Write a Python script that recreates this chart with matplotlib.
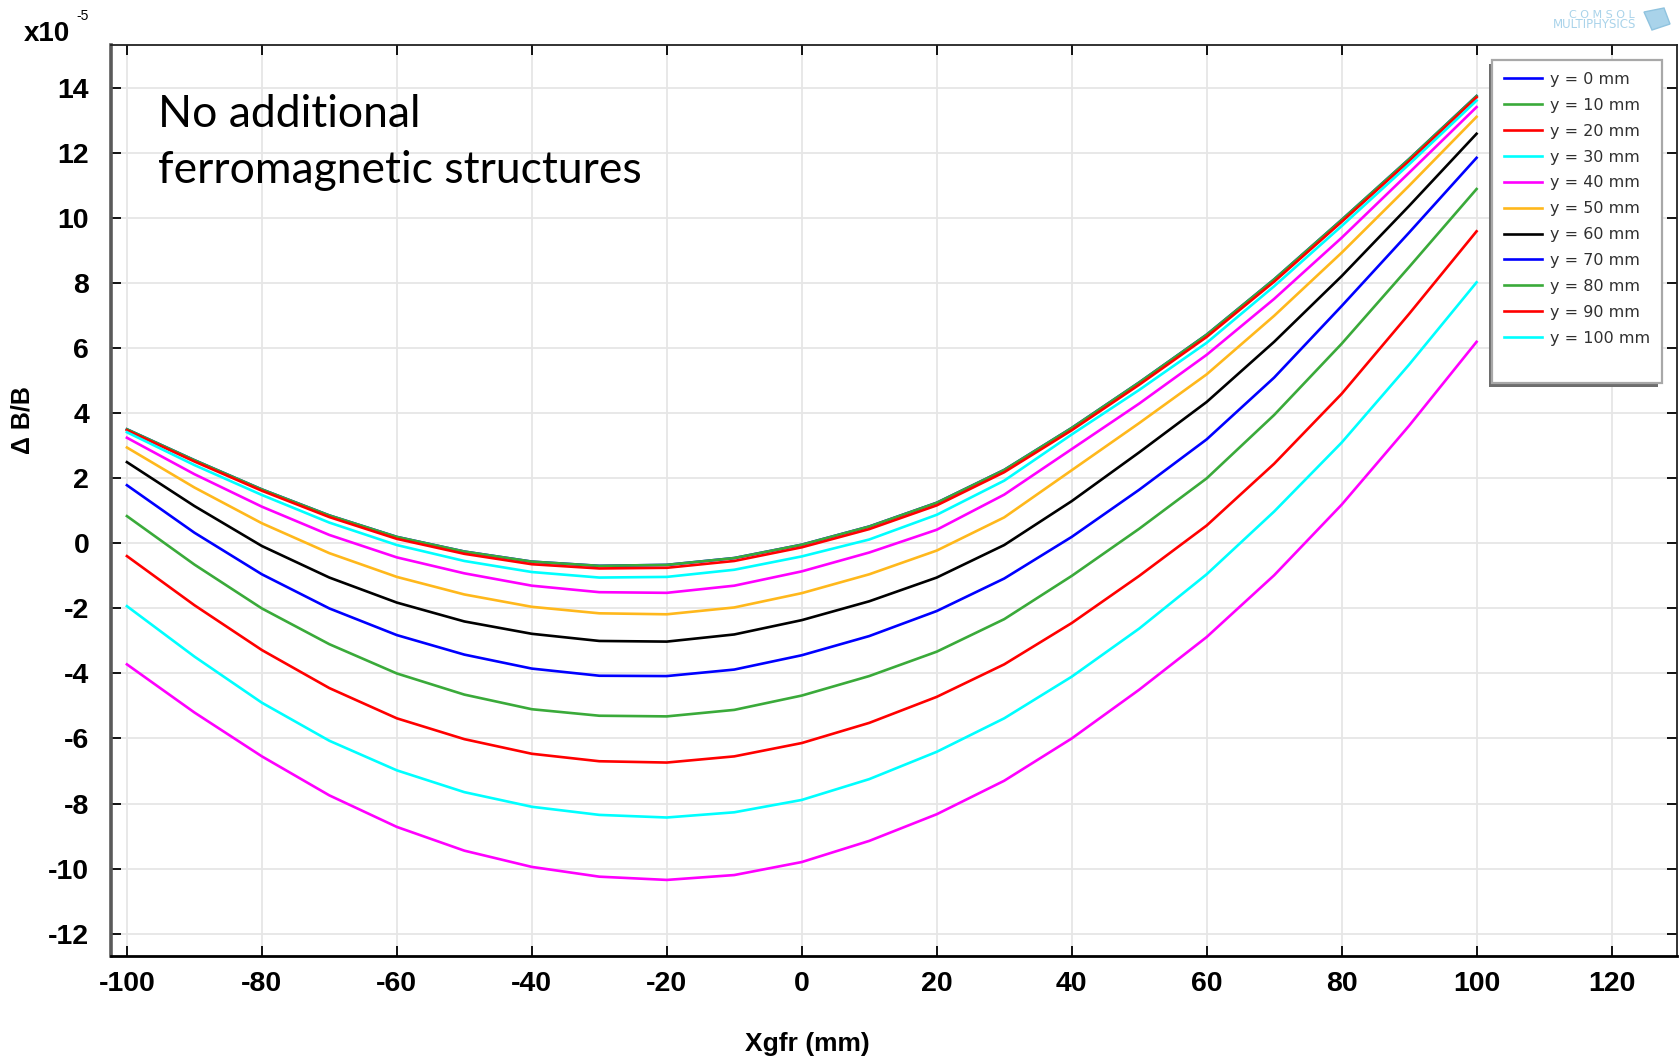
import matplotlib
matplotlib.use('Agg')
import matplotlib.pyplot as plt
from matplotlib.lines import Line2D
from matplotlib.patches import Rectangle, Polygon

plt.rcParams['axes.unicode_minus'] = False

# ---------------- data (units of 1e-5) ----------------
x_mm = [-100, -90, -80, -70, -60, -50, -40, -30, -20, -10, 0,
        10, 20, 30, 40, 50, 60, 70, 80, 90, 100]

dbb_y0 = [3.51, 2.56, 1.66, 0.86, 0.20, -0.25, -0.56, -0.69, -0.66, -0.45, -0.04,
          0.52, 1.25, 2.26, 3.55, 4.95, 6.42, 8.12, 9.95, 11.82, 13.76]
dbb_y10 = [3.51, 2.56, 1.66, 0.86, 0.20, -0.25, -0.56, -0.69, -0.66, -0.45, -0.04,
           0.52, 1.25, 2.26, 3.55, 4.95, 6.42, 8.12, 9.95, 11.82, 13.76]
dbb_y20 = [3.48, 2.52, 1.62, 0.81, 0.14, -0.32, -0.64, -0.77, -0.75, -0.54, -0.12,
           0.44, 1.17, 2.19, 3.48, 4.88, 6.35, 8.05, 9.89, 11.76, 13.72]
dbb_y30 = [3.42, 2.41, 1.49, 0.64, -0.05, -0.54, -0.88, -1.05, -1.03, -0.81, -0.40,
           0.12, 0.88, 1.93, 3.35, 4.72, 6.17, 7.91, 9.76, 11.66, 13.62]
dbb_y40 = [3.25, 2.13, 1.13, 0.26, -0.43, -0.92, -1.30, -1.50, -1.52, -1.30, -0.86,
           -0.28, 0.42, 1.50, 2.90, 4.30, 5.80, 7.52, 9.40, 11.40, 13.42]
dbb_y50 = [2.95, 1.72, 0.62, -0.30, -1.03, -1.57, -1.95, -2.15, -2.18, -1.97, -1.53,
           -0.95, -0.22, 0.80, 2.25, 3.70, 5.20, 7.00, 8.94, 11.00, 13.12]
dbb_y60 = [2.50, 1.15, -0.08, -1.05, -1.82, -2.40, -2.78, -3.00, -3.02, -2.80, -2.36,
           -1.78, -1.05, -0.05, 1.30, 2.80, 4.35, 6.20, 8.22, 10.38, 12.60]
dbb_y70 = [1.79, 0.33, -0.95, -2.00, -2.82, -3.42, -3.85, -4.07, -4.08, -3.88, -3.44,
           -2.85, -2.08, -1.08, 0.20, 1.65, 3.20, 5.10, 7.30, 9.56, 11.86]
dbb_y80 = [0.84, -0.65, -2.00, -3.10, -4.00, -4.65, -5.10, -5.30, -5.32, -5.12, -4.68,
           -4.08, -3.33, -2.33, -1.00, 0.45, 2.00, 3.95, 6.14, 8.50, 10.90]
dbb_y90 = [-0.39, -1.90, -3.28, -4.45, -5.38, -6.02, -6.47, -6.70, -6.74, -6.55, -6.14,
           -5.52, -4.72, -3.72, -2.45, -1.00, 0.55, 2.45, 4.60, 7.06, 9.60]
dbb_y100 = [-1.93, -3.48, -4.90, -6.07, -6.98, -7.65, -8.10, -8.35, -8.43, -8.27, -7.89,
            -7.25, -6.41, -5.38, -4.10, -2.62, -0.95, 0.98, 3.10, 5.50, 8.03]
dbb_y110 = [-3.72, -5.20, -6.55, -7.75, -8.72, -9.45, -9.95, -10.25, -10.35, -10.20, -9.80,
            -9.15, -8.33, -7.30, -6.00, -4.50, -2.88, -0.98, 1.19, 3.62, 6.20]

series = [dbb_y0, dbb_y10, dbb_y20, dbb_y30, dbb_y40, dbb_y50,
          dbb_y60, dbb_y70, dbb_y80, dbb_y90, dbb_y100, dbb_y110]
series_labels = ['y = 0 mm', 'y = 10 mm', 'y = 20 mm', 'y = 30 mm', 'y = 40 mm',
                 'y = 50 mm', 'y = 60 mm', 'y = 70 mm', 'y = 80 mm', 'y = 90 mm',
                 'y = 100 mm', None]
series_colors = ['#0000ff', '#3aaa3a', '#ff0000', '#00ffff', '#ff00ff', '#ffb81c',
                 '#000000', '#0000ff', '#3aaa3a', '#ff0000', '#00ffff', '#ff00ff']

x_ticks = [-100, -80, -60, -40, -20, 0, 20, 40, 60, 80, 100, 120]
y_ticks = [-12, -10, -8, -6, -4, -2, 0, 2, 4, 6, 8, 10, 12, 14]

# ---------------- figure ----------------
W, H = 1679, 1063
fig = plt.figure(figsize=(W / 100, H / 100), dpi=100)
ax = fig.add_axes([111.4 / W, 1 - 956 / H, (1677 - 111.4) / W, (956 - 45) / H])

handles = []
for vals, lab, col in zip(series, series_labels, series_colors):
    ln, = ax.plot(x_mm, vals, color=col, lw=1.9, solid_joinstyle='round')
    if lab is not None:
        handles.append((ln, lab))

ax.set_xlim(-102.3, 129.7)
ax.set_ylim(-12.69, 15.33)
ax.set_xticks(x_ticks)
ax.set_yticks(y_ticks)
ax.set_xticklabels([str(v) for v in x_ticks])
ax.set_yticklabels([str(v) for v in y_ticks])

ax.grid(True, color='#e6e6e6', lw=1.3)
ax.set_axisbelow(True)

ax.tick_params(axis='both', direction='in', length=7, width=1.3,
               top=True, right=True, labelsize=20.5, colors='black')
ax.tick_params(axis='x', pad=11)
ax.tick_params(axis='y', pad=16)
for lab in ax.get_xticklabels() + ax.get_yticklabels():
    lab.set_fontfamily('Liberation Sans')
    lab.set_fontweight('bold')

ax.spines['left'].set_color('#5a5a5a')
ax.spines['left'].set_linewidth(2.6)
ax.spines['bottom'].set_color('#000000')
ax.spines['bottom'].set_linewidth(2.0)
ax.spines['top'].set_color('#222222')
ax.spines['top'].set_linewidth(1.3)
ax.spines['right'].set_color('#222222')
ax.spines['right'].set_linewidth(1.3)

# axis labels
fig.text(807 / W, 1 - 1044 / H, 'Xgfr (mm)', ha='center', va='center',
         fontsize=19, fontweight='bold', family='Liberation Sans')
fig.text(22 / W, 1 - 420 / H, '\u0394 B/B', ha='center', va='center', rotation=90,
         fontsize=18, fontweight='bold', family='Liberation Sans')
fig.text(24 / W, 1 - 41 / H, 'x10', ha='left', va='baseline',
         fontsize=20, fontweight='bold', family='Liberation Sans')
fig.text(76 / W, 1 - 20 / H, '-5', ha='left', va='baseline',
         fontsize=10, family='Liberation Sans')

# annotation
fig.text(158 / W, 1 - 126.8 / H, 'No additional', ha='left', va='baseline',
         fontsize=32, family='Lato', color='black')
fig.text(158 / W, 1 - 183 / H, 'ferromagnetic structures', ha='left', va='baseline',
         fontsize=32, family='Lato', color='black')

# legend (with an empty final slot as in the original)
leg_handles = [h for h, _ in handles] + [Line2D([], [], color='none')]
leg_labels = [l for _, l in handles] + [' ']
leg = ax.legend(leg_handles, leg_labels, loc='upper left',
                bbox_to_anchor=(1492 / W, 1 - 60 / H), bbox_transform=fig.transFigure,
                borderaxespad=0, frameon=True, fancybox=False,
                edgecolor='#a8a8a8', framealpha=1, borderpad=0.75,
                handlelength=2.4, handletextpad=0.45, labelspacing=0.68,
                prop={'family': 'DejaVu Sans', 'size': 11.5})
leg.get_frame().set_linewidth(1.6)
for t in leg.get_texts():
    t.set_color('#303030')
leg.set_zorder(10)

# COMSOL logo
fig.text(1635 / W, 1 - 18 / H, 'C O M S O L', ha='right', va='baseline', fontsize=8,
         color='#a9d3ea', family='DejaVu Sans')
fig.text(1636 / W, 1 - 28.5 / H, 'MULTIPHYSICS', ha='right', va='baseline', fontsize=8.5,
         color='#a9d3ea', family='DejaVu Sans')
cube = Polygon([(1644 / W, 1 - 12 / H), (1664 / W, 1 - 8 / H), (1670 / W, 1 - 24 / H),
                (1652 / W, 1 - 30 / H)], closed=True, transform=fig.transFigure,
               facecolor='#a9d3ea', edgecolor='#8fc3df', lw=1)
fig.patches.append(cube)

# shadow of the legend (offset to lower-left)
fig.canvas.draw()
bb = leg.get_frame().get_window_extent(fig.canvas.get_renderer())
shadow = Rectangle((bb.x0 - 3.5, bb.y0 - 3.5), bb.width, bb.height, transform=None,
                   facecolor='#6e6e6e', edgecolor='none', zorder=9.5, clip_on=False)
ax.add_artist(shadow)

fig.savefig('out.png', dpi=100)
